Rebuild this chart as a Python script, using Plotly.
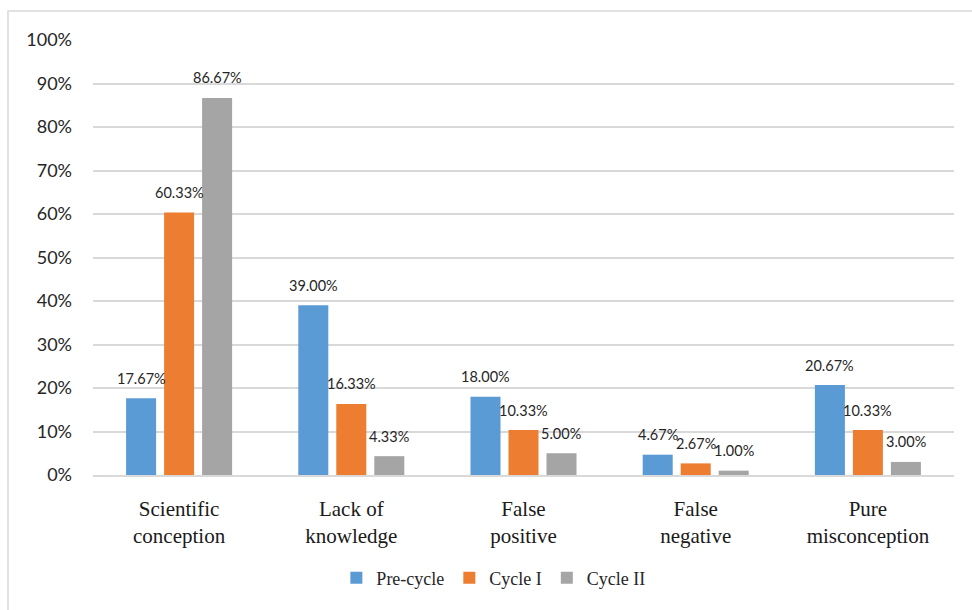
import plotly.graph_objects as go

categories = ["Scientific<br>conception", "Lack of<br>knowledge", "False<br>positive",
              "False<br>negative", "Pure<br>misconception"]
series_names = ["Pre-cycle", "Cycle I", "Cycle II"]
pre_cycle = [0.1767, 0.3900, 0.1800, 0.0467, 0.2067]
cycle_1 = [0.6033, 0.1633, 0.1033, 0.0267, 0.1033]
cycle_2 = [0.8667, 0.0433, 0.0500, 0.0100, 0.0300]
colors = ["#5B9BD5", "#ED7D31", "#A5A5A5"]
y_ticks = [0, 0.1, 0.2, 0.3, 0.4, 0.5, 0.6, 0.7, 0.8, 0.9, 1.0]
y_tick_labels = ["0%", "10%", "20%", "30%", "40%", "50%", "60%", "70%", "80%", "90%", "100%"]

W, H = 972, 610
ML, MR, MT, MB = 93, 18, 40, 135
BARGAP, BARGROUPGAP = 0.338, 0.21
SERIF = "Liberation Serif"

fig = go.Figure()
all_series = [pre_cycle, cycle_1, cycle_2]
for name, vals, col in zip(series_names, all_series, colors):
    fig.add_trace(go.Bar(x=categories, y=vals, name=name, marker=dict(color=col, line=dict(width=0))))

plot_w = W - ML - MR
slot = plot_w / len(categories) * (1 - BARGAP) / len(all_series)
for si, vals in enumerate(all_series):
    for ci, v in enumerate(vals):
        fig.add_annotation(x=categories[ci], y=v, xref="x", yref="y",
                           text=f"{v*100:.2f}%", showarrow=False,
                           xshift=(si - 1) * slot, yshift=20,
                           font=dict(family="Lato", size=14.5, color="#262626"))

# chart border (only top and left visible in the frame)
fig.add_shape(type="rect", xref="paper", yref="paper",
              x0=(8 - ML) / plot_w, x1=(W + 5 - ML) / plot_w,
              y0=-(MB + 5) / (H - MT - MB), y1=(H - MB - 11) / (H - MT - MB),
              line=dict(color="#D9D9D9", width=1.5), layer="below")

fig.update_layout(
    width=W, height=H,
    font=dict(family=SERIF, size=21, color="#1a1a1a"),
    margin=dict(l=ML, r=MR, t=MT, b=MB),
    paper_bgcolor="white", plot_bgcolor="white",
    barmode="group", bargap=BARGAP, bargroupgap=BARGROUPGAP,
    showlegend=True,
    legend=dict(orientation="h", x=0.465, xanchor="center", y=-0.237, yanchor="middle",
                font=dict(family=SERIF, size=18, color="#262626"),
                itemclick=False, traceorder="normal"),
    xaxis=dict(showgrid=False, showline=True, linecolor="#D9D9D9", linewidth=1.5,
               ticks="", ticklabelstandoff=14,
               tickfont=dict(family=SERIF, size=21, color="#1a1a1a")),
    yaxis=dict(range=[0, 1], tickvals=y_ticks, ticktext=y_tick_labels,
               showgrid=True, gridcolor="#D9D9D9", gridwidth=1.5, zeroline=False,
               showline=False, ticks="", ticklabelstandoff=20,
               tickfont=dict(family="Lato", size=18, color="#262626")),
)

fig.write_html("out.html")
